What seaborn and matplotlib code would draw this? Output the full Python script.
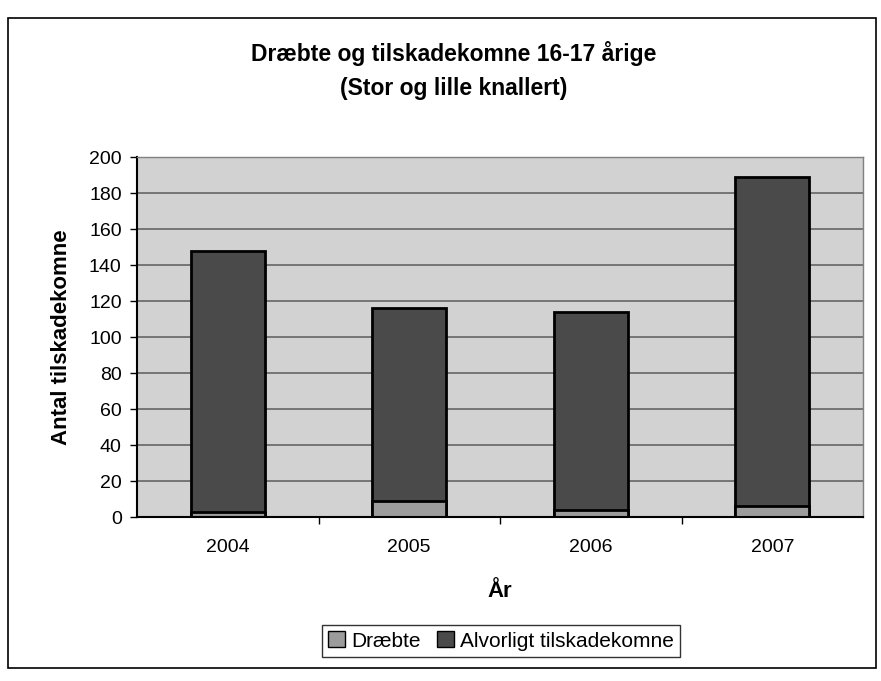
import seaborn as sns
import pandas as pd
import matplotlib.pyplot as plt
from matplotlib.patches import Rectangle, Patch
from matplotlib.ticker import FixedLocator

years = ['2004', '2005', '2006', '2007']
draebte = [3, 9, 4, 6]
alvorligt = [145, 107, 110, 183]

data = pd.DataFrame({'År': years, 'Dræbte': draebte, 'Alvorligt tilskadekomne': alvorligt})
data['Total'] = data['Dræbte'] + data['Alvorligt tilskadekomne']

sns.set_style('white')
plt.rcParams['font.family'] = ['Liberation Sans', 'DejaVu Sans']
plt.rcParams['text.color'] = 'black'
plt.rcParams['axes.labelcolor'] = 'black'
plt.rcParams['xtick.color'] = 'black'
plt.rcParams['ytick.color'] = 'black'

fig = plt.figure(figsize=(8.81, 6.81), dpi=100)
ax = fig.add_axes([137 / 881, 1 - 517 / 681, 726 / 881, 360 / 681])
ax.set_facecolor('#d2d2d2')

dark = '#4a4a4a'
light = '#9c9c9c'

# stacked bars: total first, then the lower segment on top
sns.barplot(data=data, x='År', y='Total', color=dark, width=0.41,
            edgecolor='black', linewidth=2, saturation=1, ax=ax)
sns.barplot(data=data, x='År', y='Dræbte', color=light, width=0.41,
            edgecolor='black', linewidth=2, saturation=1, ax=ax)

ax.set_ylim(0, 200)
ax.set_xlim(-0.5, 3.5)
ax.set_yticks(range(0, 201, 20))
ax.yaxis.grid(True, color='#6e6e6e', linewidth=1.3)
ax.set_axisbelow(True)

ax.tick_params(axis='y', labelsize=14, length=5, width=1, left=True, pad=6)
ax.tick_params(axis='x', which='major', length=0, labelsize=14, pad=16)
ax.xaxis.set_minor_locator(FixedLocator([0.5, 1.5, 2.5]))
ax.tick_params(axis='x', which='minor', length=5, width=1, bottom=True)

for side in ['left', 'bottom']:
    ax.spines[side].set_color('black')
    ax.spines[side].set_linewidth(1.5)
for side in ['top', 'right']:
    ax.spines[side].set_color('#808080')
    ax.spines[side].set_linewidth(1)

ax.set_xlabel('År', fontsize=16, fontweight='bold', labelpad=18)
ax.set_ylabel('Antal tilskadekomne', fontsize=16, fontweight='bold', labelpad=12)

fig.text(454 / 881, 1 - 54 / 681, 'Dræbte og tilskadekomne 16-17 årige',
         ha='center', va='center', fontsize=16.5, fontweight='bold')
fig.text(454 / 881, 1 - 88 / 681, '(Stor og lille knallert)',
         ha='center', va='center', fontsize=16.5, fontweight='bold')

handles = [Patch(facecolor=light, edgecolor='black'), Patch(facecolor=dark, edgecolor='black')]
fig.legend(handles, ['Dræbte', 'Alvorligt tilskadekomne'], loc='center',
           bbox_to_anchor=(501 / 881, 1 - 641 / 681), ncol=2, fontsize=15,
           frameon=True, fancybox=False, edgecolor='black', handlelength=0.8,
           handleheight=0.8, handletextpad=0.3, columnspacing=0.8, borderpad=0.3)

# chart frame
fig.patches.append(Rectangle((8 / 881, 1 - 668 / 681), 868 / 881, 650 / 681,
                             transform=fig.transFigure, fill=False,
                             edgecolor='black', linewidth=1.2))

plt.savefig('out.png', dpi=100)
